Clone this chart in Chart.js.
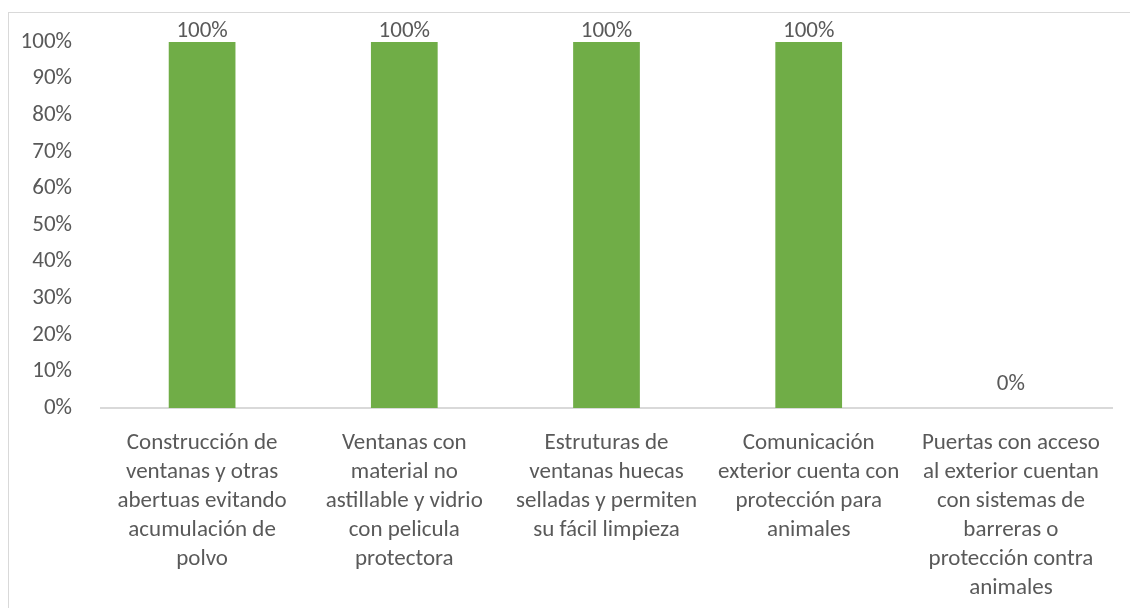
<!DOCTYPE html>
<html>
<head>
<meta charset="utf-8">
<script src="https://cdn.jsdelivr.net/npm/chart.js@4.4.0/dist/chart.umd.min.js"></script>
<style>
  html, body { margin: 0; padding: 0; background: #fff; }
  #wrap { width: 1130px; height: 608px; position: relative; }
</style>
</head>
<body>
<div id="wrap"><canvas id="myChart" width="1130" height="608"></canvas></div>
<script>
const categories = [
  ["Construcción de", "ventanas y otras", "abertuas evitando", "acumulación de", "polvo"],
  ["Ventanas con", "material no", "astillable y vidrio", "con pelicula", "protectora"],
  ["Estruturas de", "ventanas huecas", "selladas y permiten", "su fácil limpieza"],
  ["Comunicación", "exterior cuenta con", "protección para", "animales"],
  ["Puertas con acceso", "al exterior cuentan", "con sistemas de", "barreras o", "protección contra", "animales"]
];
const values = [1, 1, 1, 1, 0];
const yTicks = [0, 0.1, 0.2, 0.3, 0.4, 0.5, 0.6, 0.7, 0.8, 0.9, 1];

const textColor = "#595959";
const fontFamily = "Carlito, Calibri, Lato, 'Open Sans', sans-serif";
const fontSize = 23;

// frame around the chart area, like the Excel export
const framePlugin = {
  id: "frame",
  beforeDraw(chart) {
    const ctx = chart.ctx;
    ctx.save();
    ctx.strokeStyle = "#d9d9d9";
    ctx.lineWidth = 1;
    ctx.strokeRect(8.5, 12.5, 1140, 620);
    ctx.restore();
  },
};

// value labels above bars (empty bars get a bit more room, as in Excel)
const valueLabels = {
  id: "valueLabels",
  afterDatasetsDraw(chart) {
    const ctx = chart.ctx;
    const meta = chart.getDatasetMeta(0);
    ctx.save();
    ctx.fillStyle = textColor;
    ctx.font = fontSize + "px " + fontFamily;
    ctx.textAlign = "center";
    ctx.textBaseline = "bottom";
    meta.data.forEach((bar, i) => {
      const v = values[i];
      const off = v === 0 ? -12 : 1;
      ctx.fillText(Math.round(v * 100) + "%", bar.x, bar.y + off);
    });
    ctx.restore();
  },
};

const ctx = document.getElementById("myChart");
let chart = new Chart(ctx, {
  type: "bar",
  data: {
    labels: categories,
    datasets: [
      {
        data: values,
        backgroundColor: "#70ad47",
        barPercentage: 0.33,
        categoryPercentage: 1,
      },
    ],
  },
  options: {
    responsive: false,
    animation: false,
    layout: { padding: { top: 42, right: 18, left: 0, bottom: 0 } },
    plugins: {
      legend: { display: false },
      tooltip: { enabled: false },
    },
    scales: {
      x: {
        afterFit(scale) {
          scale.height = 200;
        },
        grid: { display: false },
        border: { display: true, color: "#d9d9d9", width: 2 },
        ticks: {
          color: textColor,
          font: { family: fontFamily, size: fontSize, lineHeight: 1.26 },
          maxRotation: 0,
          autoSkip: false,
          padding: 13,
        },
      },
      y: {
        min: 0,
        max: 1,
        afterFit(scale) {
          scale.width = 101;
        },
        afterBuildTicks(scale) {
          scale.ticks = yTicks.map((v) => ({ value: v }));
        },
        grid: { display: false },
        border: { display: false },
        ticks: {
          color: textColor,
          font: { family: fontFamily, size: fontSize },
          padding: 21,
          callback: (v) => Math.round(v * 100) + "%",
        },
      },
    },
  },
  plugins: [framePlugin, valueLabels],
});
</script>
</body>
</html>
